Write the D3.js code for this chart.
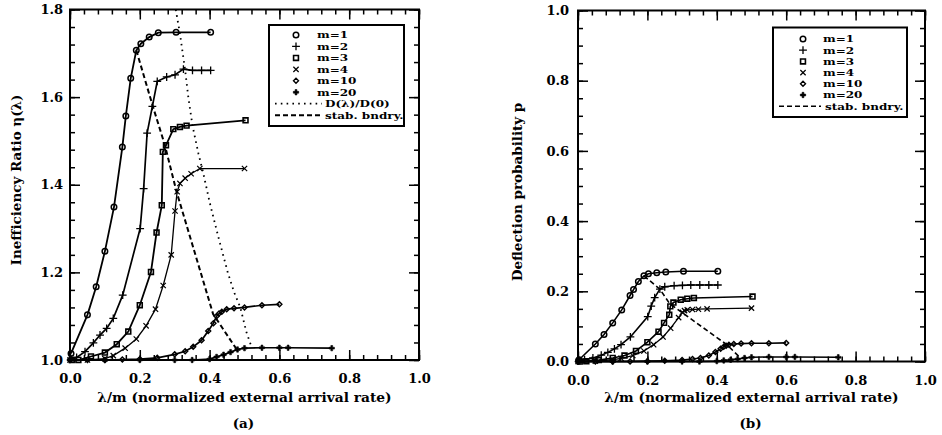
<!DOCTYPE html>
<html>
<head>
<meta charset="utf-8">
<script src="https://cdn.jsdelivr.net/npm/d3@7"></script>
<style>
  body { margin: 0; background: #fff; }
  text { font-family: "DejaVu Serif", serif; font-weight: bold; fill: #000; }
</style>
</head>
<body>
<svg id="chart" width="942" height="435"></svg>
<script>
// ---- data ----
const lamM1 = [0.003, 0.05, 0.075, 0.1, 0.126, 0.15, 0.16, 0.174, 0.19, 0.203, 0.227, 0.253, 0.304, 0.403];
const etaM1 = [1.015, 1.103, 1.167, 1.248, 1.349, 1.486, 1.557, 1.643, 1.707, 1.722, 1.737, 1.747, 1.748, 1.748];
const pM1   = [0.005, 0.05, 0.077, 0.11, 0.147, 0.188, 0.205, 0.228, 0.244, 0.25, 0.253, 0.255, 0.257, 0.257];

const lamM2 = [0.003, 0.019, 0.043, 0.067, 0.086, 0.105, 0.124, 0.151, 0.201, 0.211, 0.221, 0.236, 0.25, 0.277, 0.301, 0.325, 0.351, 0.377, 0.403];
const etaM2 = [1.002, 1.006, 1.019, 1.039, 1.057, 1.072, 1.095, 1.148, 1.3, 1.391, 1.518, 1.579, 1.636, 1.646, 1.651, 1.664, 1.661, 1.661, 1.661];
const pM2   = [0.002, 0.005, 0.01, 0.018, 0.026, 0.036, 0.048, 0.07, 0.128, 0.158, 0.182, 0.206, 0.213, 0.216, 0.217, 0.218, 0.218, 0.218, 0.218];

const lamM3 = [0.005, 0.024, 0.06, 0.1, 0.134, 0.167, 0.2, 0.232, 0.248, 0.263, 0.266, 0.275, 0.296, 0.315, 0.334, 0.503];
const etaM3 = [1.0, 1.0, 1.008, 1.017, 1.036, 1.065, 1.125, 1.201, 1.291, 1.353, 1.475, 1.49, 1.527, 1.532, 1.535, 1.547];
const pM3   = [0.0, 0.001, 0.004, 0.01, 0.017, 0.03, 0.055, 0.085, 0.11, 0.133, 0.157, 0.168, 0.176, 0.179, 0.181, 0.185];

const lamM4 = [0.0, 0.05, 0.1, 0.124, 0.158, 0.19, 0.218, 0.245, 0.267, 0.29, 0.301, 0.307, 0.315, 0.33, 0.347, 0.372, 0.5];
const etaM4 = [1.0, 1.0, 1.003, 1.01, 1.027, 1.048, 1.078, 1.116, 1.17, 1.24, 1.34, 1.384, 1.403, 1.415, 1.425, 1.437, 1.437];
const pM4   = [0.0, 0.001, 0.005, 0.009, 0.017, 0.03, 0.048, 0.07, 0.095, 0.125, 0.14, 0.145, 0.147, 0.148, 0.149, 0.15, 0.152];

const lamM10 = [0.0, 0.05, 0.1, 0.15, 0.2, 0.25, 0.3, 0.33, 0.353, 0.377, 0.396, 0.411, 0.42, 0.427, 0.435, 0.449, 0.47, 0.5, 0.55, 0.6];
const etaM10 = [1.0, 1.0, 1.0, 1.001, 1.002, 1.005, 1.013, 1.02, 1.03, 1.045, 1.066, 1.084, 1.1, 1.106, 1.11, 1.116, 1.118, 1.12, 1.125, 1.127];
const pM10   = [0.0, 0.0, 0.0, 0.0, 0.001, 0.002, 0.004, 0.007, 0.01, 0.017, 0.027, 0.036, 0.042, 0.045, 0.048, 0.05, 0.051, 0.052, 0.052, 0.053];

const lamM20 = [0.0, 0.1, 0.2, 0.3, 0.35, 0.4, 0.42, 0.44, 0.46, 0.48, 0.5, 0.55, 0.6, 0.625, 0.75];
const etaM20 = [1.0, 1.0, 1.0, 1.0, 1.0, 1.002, 1.007, 1.012, 1.018, 1.024, 1.027, 1.028, 1.028, 1.028, 1.027];
const pM20   = [0.0, 0.0, 0.0, 0.0, 0.0, 0.001, 0.003, 0.005, 0.007, 0.01, 0.012, 0.013, 0.013, 0.013, 0.012];

// D(lambda)/D(0) curve (panel a only)
const lamDratio = [0.303, 0.315, 0.33, 0.339, 0.351, 0.368, 0.382, 0.401, 0.425, 0.452, 0.47, 0.488, 0.505, 0.52];
const etaDratio = [1.8, 1.745, 1.661, 1.6, 1.535, 1.471, 1.426, 1.357, 1.281, 1.2, 1.155, 1.12, 1.065, 1.03];

// stability boundary
const lamStabA = [0.19, 0.237, 0.272, 0.305, 0.41, 0.477];
const etaStab  = [1.707, 1.58, 1.49, 1.385, 1.105, 1.025];
const lamStabB = [0.19, 0.236, 0.264, 0.295, 0.43, 0.47];
const pStab    = [0.244, 0.206, 0.165, 0.143, 0.047, 0.008];

const xTicks = [0, 0.2, 0.4, 0.6, 0.8, 1.0];
const etaTicks = [1.0, 1.2, 1.4, 1.6, 1.8];
const pTicks = [0, 0.2, 0.4, 0.6, 0.8, 1.0];

const seriesNames = ["m=1", "m=2", "m=3", "m=4", "m=10", "m=20"];

// ---- series setup ----
const zip = (xs, ys) => xs.map((x, i) => [x, ys[i]]);

const symbols = {
  circle:  { type: d3.symbolCircle,   size: 24, fill: "none", sw: 1.5 },
  plus:    { type: d3.symbolPlus,     size: 22, fill: "none", sw: 1.3 },
  square:  { type: d3.symbolSquare2,  size: 30, fill: "none", sw: 1.6 },
  times:   { type: d3.symbolTimes,    size: 20, fill: "none", sw: 1.2 },
  diamond: { type: d3.symbolDiamond2, size: 16, fill: "none", sw: 1.4 },
  star:    { type: d3.symbolCross,    size: 16, fill: "#000", sw: 0.6 }
};

const seriesA = [
  { pts: zip(lamM1, etaM1), sym: "circle", lw: 1.8 },
  { pts: zip(lamM2, etaM2), sym: "plus", lw: 1.7 },
  { pts: zip(lamM3, etaM3), sym: "square", lw: 1.8 },
  { pts: zip(lamM4, etaM4), sym: "times", lw: 1.3 },
  { pts: zip(lamM10, etaM10), sym: "diamond", lw: 1.7 },
  { pts: zip(lamM20, etaM20), sym: "star", lw: 1.7 }
];
const seriesB = [
  { pts: zip(lamM1, pM1), sym: "circle", lw: 1.6 },
  { pts: zip(lamM2, pM2), sym: "plus", lw: 1.6 },
  { pts: zip(lamM3, pM3), sym: "square", lw: 1.6 },
  { pts: zip(lamM4, pM4), sym: "times", lw: 1.3 },
  { pts: zip(lamM10, pM10), sym: "diamond", lw: 1.6 },
  { pts: zip(lamM20, pM20), sym: "star", lw: 1.6 }
];

const svg = d3.select("#chart");
svg.append("rect").attr("width", 942).attr("height", 435).attr("fill", "#fff");

function drawSymbol(g, name, x, y) {
  const s = symbols[name];
  g.append("path")
    .attr("d", d3.symbol().type(s.type).size(s.size)())
    .attr("transform", `translate(${x},${y})`)
    .attr("fill", s.fill)
    .attr("stroke", "#000")
    .attr("stroke-width", s.sw);
}

// legend text: short and wide, like the original print
function legendText(g, x, y, str) {
  const t = g.append("text").attr("x", x).attr("y", y).attr("dy", "0.36em")
    .style("font-size", "9.4px").text(str);
  const w = t.node().getComputedTextLength();
  t.attr("textLength", w * 1.28).attr("lengthAdjust", "spacingAndGlyphs");
}

function drawPanel(cfg) {
  const x = d3.scaleLinear().domain([0, 1]).range([cfg.left, cfg.right]);
  const y = d3.scaleLinear().domain(cfg.yDomain).range([cfg.bottom, cfg.top]);
  const g = svg.append("g");

  const minorX = d3.range(0, 1.0001, 0.04);
  const yStep = (cfg.yDomain[1] - cfg.yDomain[0]) / 20;
  const minorY = d3.range(0, 21).map(i => cfg.yDomain[0] + i * yStep);

  // --- ticks on all four sides (inward) ---
  const addAxis = (axis, transform) => {
    const a = g.append("g").attr("transform", transform).call(axis);
    a.select(".domain").remove();
    a.selectAll("line").attr("stroke", "#000").attr("stroke-width", 1.5);
    return a;
  };
  const noLab = () => "";

  addAxis(d3.axisBottom(x).tickValues(minorX).tickSize(-5).tickFormat(noLab), `translate(0,${cfg.bottom})`);
  addAxis(d3.axisTop(x).tickValues(minorX).tickSize(-5).tickFormat(noLab), `translate(0,${cfg.top})`);
  addAxis(d3.axisLeft(y).tickValues(minorY).tickSize(-5).tickFormat(noLab), `translate(${cfg.left},0)`);
  addAxis(d3.axisRight(y).tickValues(minorY).tickSize(-5).tickFormat(noLab), `translate(${cfg.right},0)`);

  const bx = addAxis(d3.axisBottom(x).tickValues(xTicks).tickSize(-10).tickPadding(14).tickFormat(d3.format(".1f")), `translate(0,${cfg.bottom})`);
  addAxis(d3.axisTop(x).tickValues(xTicks).tickSize(-10).tickFormat(noLab), `translate(0,${cfg.top})`);
  const ly = addAxis(d3.axisLeft(y).tickValues(cfg.yTicks).tickSize(-10).tickPadding(cfg.yPad).tickFormat(d3.format(".1f")), `translate(${cfg.left},0)`);
  addAxis(d3.axisRight(y).tickValues(cfg.yTicks).tickSize(-10).tickFormat(noLab), `translate(${cfg.right},0)`);
  bx.selectAll("text").style("font-size", "13px").style("font-family", "DejaVu Serif").style("font-weight", "bold");
  ly.selectAll("text").style("font-size", "13px").style("font-family", "DejaVu Serif").style("font-weight", "bold");

  // frame
  g.append("rect")
    .attr("x", cfg.left).attr("y", cfg.top)
    .attr("width", cfg.right - cfg.left).attr("height", cfg.bottom - cfg.top)
    .attr("fill", "none").attr("stroke", "#000").attr("stroke-width", 2);

  const line = d3.line().x(d => x(d[0])).y(d => y(d[1]));

  // reference curves
  cfg.refs.forEach(r => {
    g.append("path").attr("d", line(r.pts))
      .attr("fill", "none").attr("stroke", "#000")
      .attr("stroke-width", r.lw).attr("stroke-dasharray", r.dash);
  });

  // data series
  cfg.series.forEach(s => {
    g.append("path").attr("d", line(s.pts))
      .attr("fill", "none").attr("stroke", "#000").attr("stroke-width", s.lw);
  });
  cfg.series.forEach(s => {
    s.pts.forEach(d => drawSymbol(g, s.sym, x(d[0]), y(d[1])));
  });

  // legend
  const L = cfg.legend;
  const lg = svg.append("g");
  lg.append("rect").attr("x", L.x0).attr("y", L.y0)
    .attr("width", L.x1 - L.x0).attr("height", L.y1 - L.y0)
    .attr("fill", "#fff").attr("stroke", "#000").attr("stroke-width", 2);
  seriesNames.forEach((name, i) => {
    const yy = L.rowY0 + i * L.rowStep;
    drawSymbol(lg, cfg.series[i].sym, L.symX, yy);
    legendText(lg, L.textX, yy, name);
  });
  cfg.refs.forEach((r, j) => {
    const yy = L.rowY0 + (seriesNames.length + j) * L.rowStep;
    lg.append("line").attr("x1", L.lineX0).attr("x2", L.lineX1)
      .attr("y1", yy).attr("y2", yy)
      .attr("stroke", "#000").attr("stroke-width", r.lw).attr("stroke-dasharray", r.dash);
    legendText(lg, L.lineTextX, yy, r.label);
  });

  // titles
  const cx = (cfg.left + cfg.right) / 2;
  svg.append("text").attr("x", cx).attr("y", 402).attr("text-anchor", "middle")
    .style("font-size", "13.8px").text("λ/m (normalized external arrival rate)");
  svg.append("text").attr("x", cx - 1).attr("y", 428).attr("text-anchor", "middle")
    .style("font-size", "13.5px").text(cfg.caption);
  svg.append("text")
    .attr("transform", `translate(${cfg.yTitleX},${cfg.yTitleY}) rotate(-90)`)
    .attr("text-anchor", "middle").attr("dy", "0.35em")
    .style("font-size", "13.5px").text(cfg.yTitle);
}

drawPanel({
  left: 70, right: 419, top: 9.5, bottom: 360,
  yDomain: [1.0, 1.8], yTicks: etaTicks, yPad: 7,
  series: seriesA,
  refs: [
    { pts: zip(lamDratio, etaDratio), lw: 1.8, dash: "1.6,4.2", label: "D(λ)/D(0)" },
    { pts: zip(lamStabA, etaStab), lw: 2, dash: "5,3", label: "stab. bndry." }
  ],
  legend: { x0: 269, x1: 404, y0: 25, y1: 126, rowY0: 35, rowStep: 11.45,
            symX: 296, textX: 317, lineX0: 275, lineX1: 322, lineTextX: 325 },
  yTitle: "Inefficiency Ratio η(λ)", yTitleX: 16, yTitleY: 180,
  caption: "(a)"
});

drawPanel({
  left: 578, right: 925, top: 10.5, bottom: 361.5,
  yDomain: [0, 1.0], yTicks: pTicks, yPad: 9,
  series: seriesB,
  refs: [
    { pts: zip(lamStabB, pStab), lw: 1.6, dash: "5,3", label: "stab. bndry." }
  ],
  legend: { x0: 773, x1: 907, y0: 27.5, y1: 117, rowY0: 39, rowStep: 11.2,
            symX: 803, textX: 823, lineX0: 779, lineX1: 821, lineTextX: 825 },
  yTitle: "Deflection probability p", yTitleX: 517, yTitleY: 192,
  caption: "(b)"
});
</script>
</body>
</html>
